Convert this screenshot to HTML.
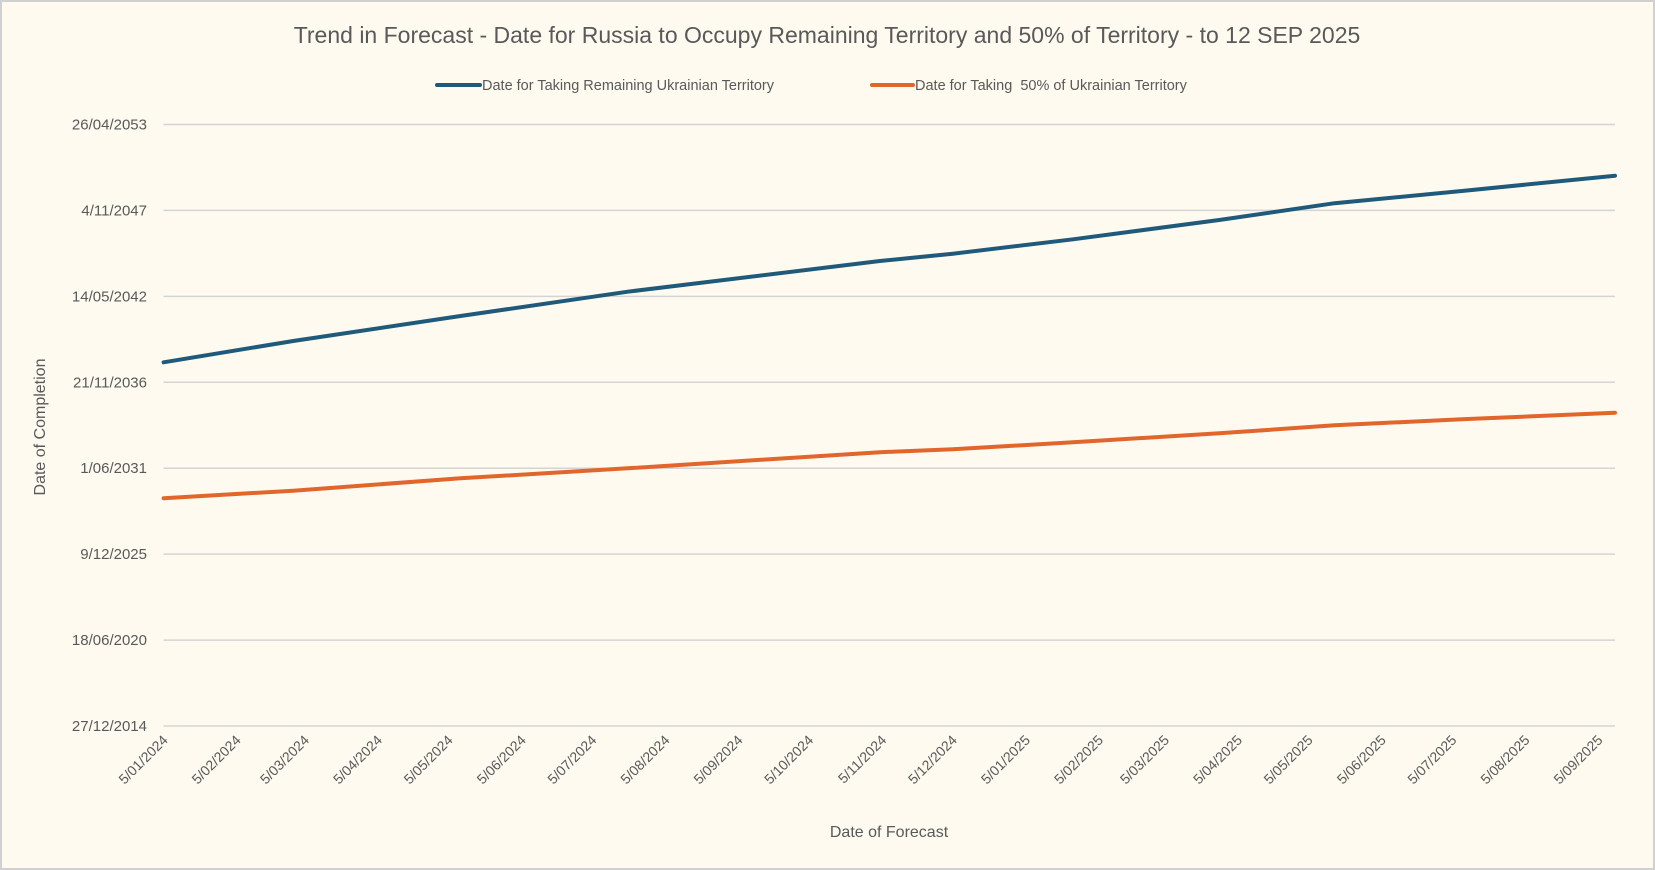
<!DOCTYPE html>
<html><head><meta charset="utf-8">
<style>
html,body{margin:0;padding:0;background:#fefaf0;}
svg{display:block;font-family:"Liberation Sans",sans-serif;}
</style></head>
<body>
<svg id="chart" width="1655" height="870" viewBox="0 0 1655 870">
<rect x="1" y="1" width="1653" height="868" fill="#fefaf0" stroke="#d0d0d0" stroke-width="2"/>
<text x="827" y="43" text-anchor="middle" font-size="23" fill="#595959">Trend in Forecast - Date for Russia to Occupy Remaining Territory and 50% of Territory - to 12 SEP 2025</text>
<g>
<g>
<line x1="437" y1="85" x2="480" y2="85" stroke="#1f5a7a" stroke-width="4" stroke-linecap="round"/>
<text x="482" y="90" font-size="14.5" fill="#595959">Date for Taking Remaining Ukrainian Territory</text>
</g>
<g>
<line x1="872" y1="85" x2="913" y2="85" stroke="#e2652c" stroke-width="4" stroke-linecap="round"/>
<text x="915" y="90" font-size="14.5" fill="#595959" xml:space="preserve">Date for Taking  50% of Ukrainian Territory</text>
</g>
</g>
<g id="grid"></g>
<g id="yticks"></g>
<g id="xticks"></g>
<g id="series"></g>
<text x="0" y="0" transform="translate(45,427) rotate(-90)" text-anchor="middle" font-size="16" fill="#595959">Date of Completion</text>
<text x="889" y="837" text-anchor="middle" font-size="16" fill="#595959">Date of Forecast</text>
</svg>
<script>
const xDays = [0,55,126,197,304,335,386,448,497,551,616];
const remainingYears = [2038.16,2039.52,2041.11,2042.66,2044.62,2045.08,2046.00,2047.23,2048.30,2049.08,2050.05];
const halfYears = [2029.50,2029.98,2030.77,2031.41,2032.43,2032.62,2033.07,2033.64,2034.15,2034.53,2034.95];
const xTickDays = [0,31,60,91,121,152,182,213,244,274,305,335,366,397,425,456,486,517,547,578,609];
const xTickLabels = ["5/01/2024","5/02/2024","5/03/2024","5/04/2024","5/05/2024","5/06/2024","5/07/2024","5/08/2024","5/09/2024","5/10/2024","5/11/2024","5/12/2024","5/01/2025","5/02/2025","5/03/2025","5/04/2025","5/05/2025","5/06/2025","5/07/2025","5/08/2025","5/09/2025"];
const yTickYears = [2014.986,2020.462,2025.937,2031.413,2036.889,2042.364,2047.840,2053.315];
const yTickLabels = ["27/12/2014","18/06/2020","9/12/2025","1/06/2031","21/11/2036","14/05/2042","4/11/2047","26/04/2053"];

const NS="http://www.w3.org/2000/svg";
const X0=163.6,X1=1615,Y0=726,Y1=124.5;
const yMin=2014.986,yMax=2053.315,dMax=616;
function xs(d){return X0+(X1-X0)*d/dMax;}
function ys(v){return Y0-(Y0-Y1)*(v-yMin)/(yMax-yMin);}
function mk(tag,attrs,parent){const e=document.createElementNS(NS,tag);for(const k in attrs)e.setAttribute(k,attrs[k]);parent.appendChild(e);return e;}
const grid=document.getElementById('grid'),yt=document.getElementById('yticks'),xt=document.getElementById('xticks'),ser=document.getElementById('series');
yTickYears.forEach((v,i)=>{
  const y=ys(v);
  const l=mk('line',{x1:X0,x2:X1,y1:y,y2:y,stroke:'#d4d4d4','stroke-width':1.5},grid);
  
  
  const t=mk('text',{x:147,y:y+5,'text-anchor':'end','font-size':15,fill:'#595959'},yt);
  t.textContent=yTickLabels[i];
  
  
});
xTickDays.forEach((d,i)=>{
  const x=xs(d);
  const t=mk('text',{x:0,y:0,'text-anchor':'end','font-size':14,fill:'#595959',transform:`translate(${x+5},${Y0+15}) rotate(-45)`},xt);
  t.textContent=xTickLabels[i];
  
  
});
function line(vals,color,name){
  const pts=vals.map((v,i)=>xs(xDays[i]).toFixed(1)+','+ys(v).toFixed(1)).join(' ');
  const p=mk('polyline',{points:pts,fill:'none',stroke:color,'stroke-width':4,'stroke-linejoin':'round','stroke-linecap':'round'},ser);
  
  
}
line(remainingYears,'#1f5a7a','series-remaining-territory');
line(halfYears,'#e2652c','series-50pct-territory');
</script>
</body></html>
